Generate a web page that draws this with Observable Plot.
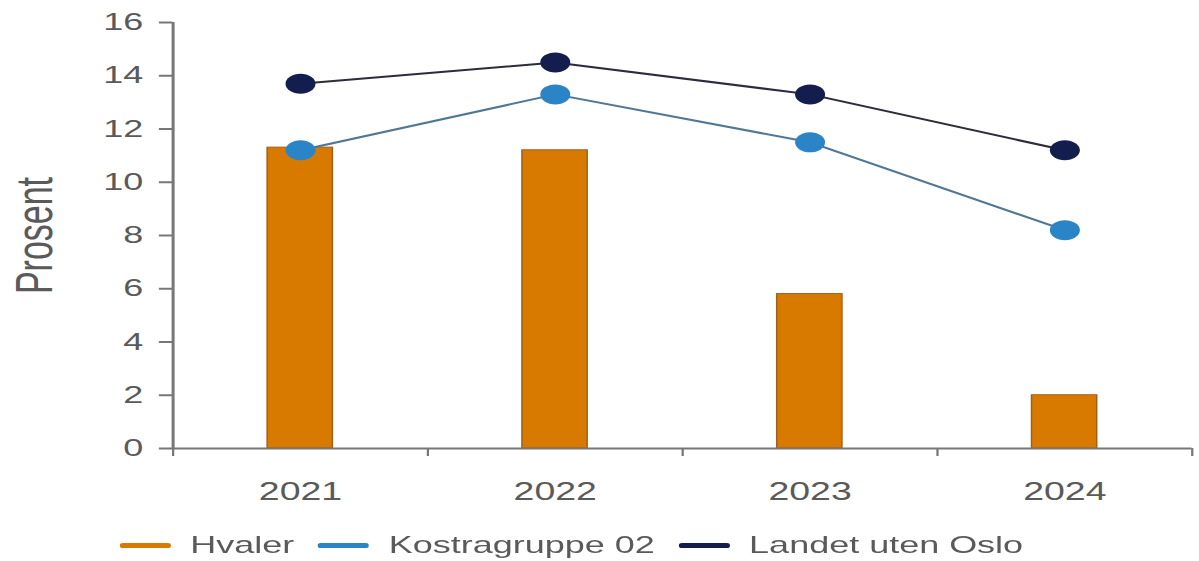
<!DOCTYPE html>
<html>
<head>
<meta charset="utf-8">
<script src="https://cdn.jsdelivr.net/npm/d3@7"></script>
<script src="https://cdn.jsdelivr.net/npm/@observablehq/plot@0.6"></script>
<style>
  html, body { margin: 0; padding: 0; background: #fff; overflow: hidden; }
  #wrap { position: relative; width: 800px; height: 561px; transform: scaleX(1.49875); transform-origin: 0 0; font-family: "Liberation Sans", Arial, sans-serif; }
  #legend { position: absolute; left: 80px; top: 530px; height: 30px; display: flex; align-items: center; font-size: 24px; color: #5a5a5a; }
  .item { display: flex; align-items: center; margin-right: 16px; }
  .sw { width: 34px; height: 5px; margin-right: 13px; border-radius: 2px; }
</style>
</head>
<body>
<div id="wrap">
  <div id="chart"></div>
  <div id="legend"></div>
</div>
<script>
const years = [2021, 2022, 2023, 2024];
const hvaler = [11.3, 11.2, 5.8, 2.0];
const kostragruppe02 = [11.2, 13.3, 11.5, 8.2];
const landetUtenOslo = [13.7, 14.5, 13.3, 11.2];
const seriesNames = ["Hvaler", "Kostragruppe 02", "Landet uten Oslo"];
const seriesColors = ["#d97a00", "#2b84c6", "#141e4e"];
const lineColors = ["#d97a00", "#4f7896", "#2c2c3c"];
const yTicks = [0, 2, 4, 6, 8, 10, 12, 14, 16];

const bars = years.map((y, i) => ({year: y, value: hvaler[i]}));
const kos = years.map((y, i) => ({year: y, value: kostragruppe02[i]}));
const lan = years.map((y, i) => ({year: y, value: landetUtenOslo[i]}));
const boundaries = [years[0] - 0.5, ...years.map(y => y + 0.5)];
const halfBar = 0.128;

const chart = Plot.plot({
  width: 800,
  height: 515,
  marginLeft: 115,
  marginRight: 5,
  marginTop: 22,
  marginBottom: 67,
  style: {fontFamily: "'Liberation Sans', Arial, sans-serif", fontSize: "24px", color: "#5a5a5a", background: "#fff"},
  x: {domain: [years[0] - 0.5, years[years.length - 1] + 0.5]},
  y: {domain: [0, 16]},
  marks: [
    Plot.rectY(bars, {x1: d => d.year - halfBar, x2: d => d.year + halfBar, y: "value", fill: seriesColors[0], stroke: "#a0601a", strokeWidth: 1}),
    Plot.ruleX([boundaries[0]], {y1: 0, y2: 16, stroke: "#777", strokeWidth: 2}),
    Plot.ruleY([0], {stroke: "#777", strokeWidth: 2}),
    Plot.axisY({ticks: yTicks, tickSize: 9, tickPadding: 11, stroke: "#777", strokeWidth: 2, fill: "#5a5a5a", label: null, fontSize: 24}),
    Plot.axisX({ticks: boundaries, tickSize: 8, tickFormat: () => "", stroke: "#777", strokeWidth: 1.5, label: null}),
    Plot.axisX({ticks: years, tickSize: 0, tickPadding: 34, tickFormat: d => String(d), fill: "#5a5a5a", label: null, fontSize: 25}),
    Plot.text(["Prosent"], {frameAnchor: "left", textAnchor: "middle", dx: -92, rotate: -90, fontSize: 34, fill: "#5a5a5a"}),
    Plot.line(kos, {x: "year", y: "value", stroke: lineColors[1], strokeWidth: 2}),
    Plot.line(lan, {x: "year", y: "value", stroke: lineColors[2], strokeWidth: 2}),
    Plot.dot(kos, {x: "year", y: "value", r: 10, fill: seriesColors[1]}),
    Plot.dot(lan, {x: "year", y: "value", r: 10, fill: seriesColors[2]})
  ]
});
document.getElementById("chart").appendChild(chart);

const legend = document.getElementById("legend");
seriesNames.forEach((name, i) => {
  const item = document.createElement("div");
  item.className = "item";
  const sw = document.createElement("div");
  sw.className = "sw";
  sw.style.background = seriesColors[i];
  const label = document.createElement("span");
  label.textContent = name;
  item.appendChild(sw);
  item.appendChild(label);
  legend.appendChild(item);
});
</script>
</body>
</html>
